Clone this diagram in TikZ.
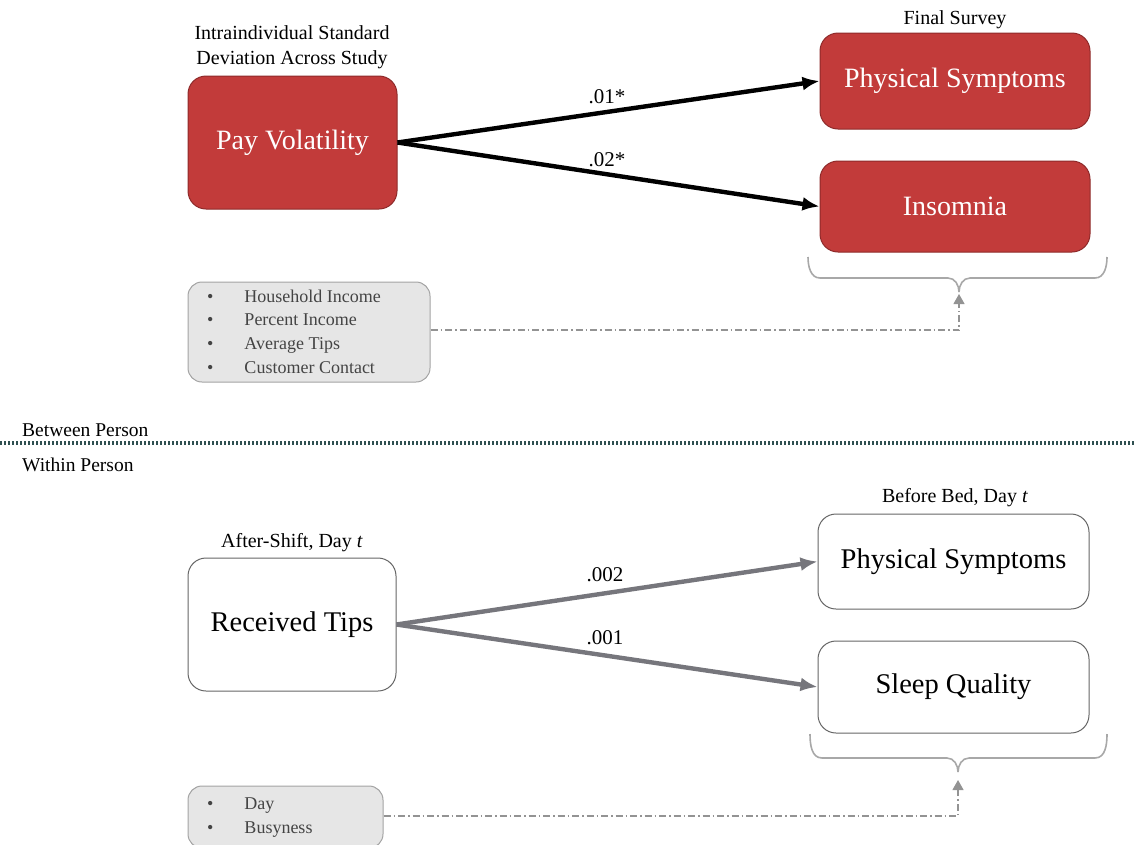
\documentclass[tikz,border=0pt]{standalone}
\usepackage{fontspec}
\setmainfont{Liberation Serif}
\usetikzlibrary{arrows.meta}
\definecolor{boxred}{HTML}{C23B3A}
\definecolor{redborder}{HTML}{8E2A2A}
\definecolor{ctrlfill}{HTML}{E6E6E6}
\definecolor{ctrlborder}{HTML}{A3A3A3}
\definecolor{grayarrow}{HTML}{76767C}
\definecolor{bracecol}{HTML}{A8A8A8}
\definecolor{sepcol}{HTML}{2F4F50}
\definecolor{ctrltext}{HTML}{444444}
\tikzset{
  redbox/.style={draw=redborder, line width=1pt, fill=boxred, rounded corners=18pt, text=white, font=\fontsize{28}{30}\selectfont},
  whitebox/.style={draw=black!60, line width=1pt, fill=white, rounded corners=18pt, text=black, font=\fontsize{28.5}{30}\selectfont},
  ctrlbox/.style={draw=ctrlborder, line width=1pt, fill=ctrlfill, rounded corners=14pt},
  ctrllist/.style={text=ctrltext, font=\fontsize{18}{23.7}\selectfont, inner sep=0pt, anchor=west},
  toplabel/.style={font=\fontsize{20}{25}\selectfont, align=center, inner sep=0pt},
  coef/.style={font=\fontsize{21}{22}\selectfont, inner sep=0pt},
  blackarrow/.style={line width=4.4pt, -{Latex[length=17pt,width=14pt]}, black},
  grayarr/.style={line width=4.4pt, -{Latex[length=17pt,width=14pt]}, grayarrow},
  bracestyle/.style={draw=bracecol, line width=1.6pt},
  ctrlline/.style={draw=gray!85, line width=1.2pt, dash pattern=on 7pt off 3pt on 1.5pt off 3pt, -{Triangle[length=10pt,width=11pt]}},
  sidelabel/.style={font=\fontsize{19.5}{22}\selectfont, inner sep=0pt, anchor=west},
}
\newcommand{\ctrlitems}[1]{\begin{tabular}{@{}l@{\hspace{31pt}}l@{}}#1\end{tabular}}
\begin{document}
\begin{tikzpicture}[x=1pt,y=-1pt]
\useasboundingbox (0,0) rectangle (1135,844);

% ---------- Between person ----------
\node[toplabel] (lblpv) at (292,47) {Intraindividual Standard\\Deviation Across Study};
\node[redbox, minimum width=209pt, minimum height=133pt] (pv) at (292.5,142.5) {Pay Volatility};
\node[toplabel] (lblfs) at (955,20) {Final Survey};
\node[redbox, minimum width=270pt, minimum height=96pt] (ps1) at (955,81) {Physical Symptoms};
\node[redbox, minimum width=270pt, minimum height=91pt] (ins) at (955,206.5) {Insomnia};

\draw[blackarrow] (pv.east) -- (ps1.west);
\draw[blackarrow] (pv.east) -- (ins.west);
\node[coef] (c1) at (607,97) {.01*};
\node[coef] (c2) at (607,160) {.02*};

\node[ctrlbox, minimum width=242pt, minimum height=100pt] (ctrl1) at (309,332) {};
\node[ctrllist] (list1) at (207,333) {\ctrlitems{\textbullet & Household Income\\ \textbullet & Percent Income\\ \textbullet & Average Tips\\ \textbullet & Customer Contact}};

\coordinate (n1) at (959,294);
\coordinate (bend1) at (959,330);
\draw[bracestyle] (808,257) to[out=-90,in=180] (820,278) -- (948,278) to[out=0,in=90] (959,292);
\draw[bracestyle] (1107,257) to[out=-90,in=0] (1095,278) -- (970,278) to[out=180,in=90] (959,292);
\draw[ctrlline] (ctrl1.east |- bend1) -- (bend1) -- (n1);

% ---------- separator ----------
\coordinate (sepL) at (0,443);
\coordinate (sepR) at (1135,443);
\draw[sepcol, line width=4.5pt, dash pattern=on 1.8pt off 2.2pt] (sepL) -- (sepR);
\node[sidelabel] (bp) at (22,430) {Between Person};
\node[sidelabel] (wp) at (22,465) {Within Person};

% ---------- Within person ----------
\node[toplabel] (lblas) at (292,543) {After-Shift, Day \textit{t}};
\node[whitebox, minimum width=208pt, minimum height=133pt] (rt) at (292,624.5) {Received Tips};
\node[toplabel] (lblbb) at (955,498) {Before Bed, Day \textit{t}};
\node[whitebox, minimum width=271pt, minimum height=95pt] (ps2) at (953.5,561.5) {Physical Symptoms};
\node[whitebox, minimum width=271pt, minimum height=92pt] (sq) at (953.5,687) {Sleep Quality};

\draw[grayarr] (rt.east) -- (ps2.west);
\draw[grayarr] (rt.east) -- (sq.west);
\node[coef] (c3) at (605,575) {.002};
\node[coef] (c4) at (605,638) {.001};

\node[ctrlbox, minimum width=195pt, minimum height=62pt] (ctrl2) at (285.5,817) {};
\node[ctrllist] (list2) at (207,817) {\ctrlitems{\textbullet & Day\\ \textbullet & Busyness}};

\coordinate (n2) at (958,780);
\coordinate (bend2) at (958,816);
\draw[bracestyle] (810,734) to[out=-90,in=180] (822,758) -- (947,758) to[out=0,in=90] (958,772);
\draw[bracestyle] (1107,734) to[out=-90,in=0] (1095,758) -- (969,758) to[out=180,in=90] (958,772);
\draw[ctrlline] (ctrl2.east |- bend2) -- (bend2) -- (n2);
\end{tikzpicture}
\end{document}
